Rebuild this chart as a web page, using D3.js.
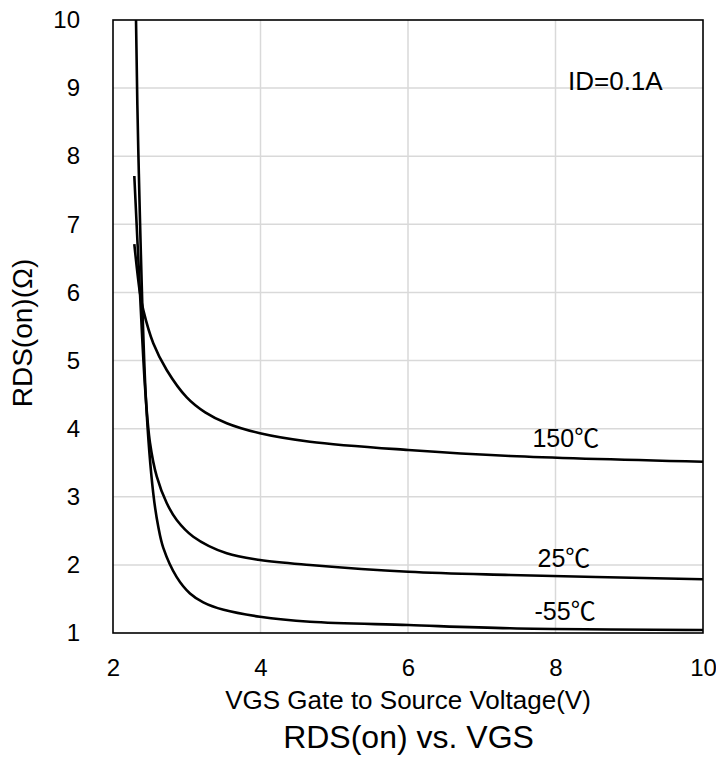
<!DOCTYPE html>
<html>
<head>
<meta charset="utf-8">
<script src="https://cdn.jsdelivr.net/npm/d3@7"></script>
<style>
  html, body { margin: 0; padding: 0; background: #fff; }
  svg { display: block; font-family: "Liberation Sans", Arial, "Noto Sans CJK SC", sans-serif; }
</style>
</head>
<body>
<svg id="chart" width="716" height="769"></svg>
<script>
// RDS(on) vs VGS at ID = 0.1 A, three junction temperatures
const vgs150 = [2.289, 2.366, 2.411, 2.546, 2.728, 3.0, 3.25, 3.542, 3.993, 4.671, 6.004, 7.383, 10.0];
const rds150 = [6.708, 5.99, 5.74, 5.254, 4.862, 4.46, 4.24, 4.08, 3.933, 3.809, 3.687, 3.599, 3.515];

const vgs25 = [2.289, 2.366, 2.435, 2.502, 2.593, 2.728, 2.864, 3.089, 3.542, 3.993, 4.671, 6.004, 7.383, 10.0];
const rds25 = [7.71, 5.99, 4.6, 3.79, 3.3, 2.909, 2.659, 2.414, 2.170, 2.072, 1.999, 1.90, 1.852, 1.789];

const vgsM55 = [2.312, 2.343, 2.447, 2.546, 2.614, 2.682, 2.864, 3.044, 3.224, 3.5, 3.993, 4.671, 6.004, 7.383, 10.0];
const rdsM55 = [10.0, 8.09, 4.42, 3.05, 2.56, 2.25, 1.82, 1.58, 1.45, 1.34, 1.239, 1.166, 1.117, 1.069, 1.044];

const xTicks = [2, 4, 6, 8, 10];
const yTicks = [1, 2, 3, 4, 5, 6, 7, 8, 9, 10];

const curveLabels = [
  { text: "150℃", x: 8.14, y: 3.736 },
  { text: "25℃", x: 8.115, y: 1.974 },
  { text: "-55℃", x: 8.13, y: 1.19 }
];

const FONT = "'Liberation Sans', Arial, 'Noto Sans CJK SC', sans-serif";

const svg = d3.select("#chart");
const m = { left: 113, right: 13, top: 20, bottom: 136 };
const W = 716, H = 769;
const pw = W - m.left - m.right, ph = H - m.top - m.bottom;

const x = d3.scaleLinear().domain([2, 10]).range([m.left, m.left + pw]);
const y = d3.scaleLinear().domain([1, 10]).range([m.top + ph, m.top]);

svg.append("defs").append("clipPath").attr("id", "plotClip")
  .append("rect").attr("x", m.left).attr("y", m.top).attr("width", pw).attr("height", ph);

// grid
const grid = svg.append("g");
grid.selectAll("line.gx").data(xTicks.slice(1, -1)).join("line")
  .attr("x1", d => x(d)).attr("x2", d => x(d))
  .attr("y1", m.top).attr("y2", m.top + ph)
  .attr("stroke", "#d9d9d9").attr("stroke-width", 1.5);
grid.selectAll("line.gy").data(yTicks.slice(1, -1)).join("line")
  .attr("x1", m.left).attr("x2", m.left + pw)
  .attr("y1", d => y(d)).attr("y2", d => y(d))
  .attr("stroke", "#d9d9d9").attr("stroke-width", 1.5);

// axes (labels only, frame drawn separately)
const xAxis = d3.axisBottom(x).tickValues(xTicks).tickSize(0).tickPadding(0).tickFormat(d3.format("d"));
const gx = svg.append("g").attr("transform", `translate(0,${m.top + ph})`).call(xAxis);
gx.select(".domain").remove();
gx.selectAll("text").attr("dy", null).attr("y", 43).attr("font-size", 24)
  .attr("fill", "#000").attr("font-family", FONT);

const yAxis = d3.axisLeft(y).tickValues(yTicks).tickSize(0).tickPadding(0).tickFormat(d3.format("d"));
const gy = svg.append("g").attr("transform", `translate(${m.left - 33},0)`).call(yAxis);
gy.select(".domain").remove();
gy.selectAll("text").attr("font-size", 24).attr("fill", "#000").attr("font-family", FONT);

// curves
const line = d3.line().x(d => x(d[0])).y(d => y(d[1])).curve(d3.curveCatmullRom.alpha(0.5));
const series = [
  d3.zip(vgs150, rds150),
  d3.zip(vgs25, rds25),
  d3.zip(vgsM55, rdsM55)
];
svg.append("g").attr("clip-path", "url(#plotClip)")
  .selectAll("path").data(series).join("path")
  .attr("d", line).attr("fill", "none")
  .attr("stroke", "#000").attr("stroke-width", 2.6).attr("stroke-linejoin", "round");

// frame
svg.append("rect").attr("x", m.left).attr("y", m.top).attr("width", pw).attr("height", ph)
  .attr("fill", "none").attr("stroke", "#000").attr("stroke-width", 1.6);

// curve labels
svg.append("g").selectAll("text").data(curveLabels).join("text")
  .attr("x", d => x(d.x)).attr("y", d => y(d.y))
  .attr("text-anchor", "middle").attr("font-size", 25).attr("fill", "#000")
  .text(d => d.text);

svg.append("text").attr("x", 568).attr("y", 90).attr("font-size", 26).attr("fill", "#000")
  .text("ID=0.1A");

// axis titles
svg.append("text").attr("x", x(6)).attr("y", 709).attr("text-anchor", "middle")
  .attr("font-size", 26).attr("fill", "#000").text("VGS Gate to Source Voltage(V)");

svg.append("text").attr("transform", "translate(32,333) rotate(-90)")
  .attr("text-anchor", "middle").attr("font-size", 28).attr("fill", "#000")
  .text("RDS(on)(Ω)");

svg.append("text").attr("x", x(6) + 0.5).attr("y", 748).attr("text-anchor", "middle")
  .attr("font-size", 32).attr("fill", "#000").text("RDS(on) vs. VGS");
</script>
</body>
</html>
